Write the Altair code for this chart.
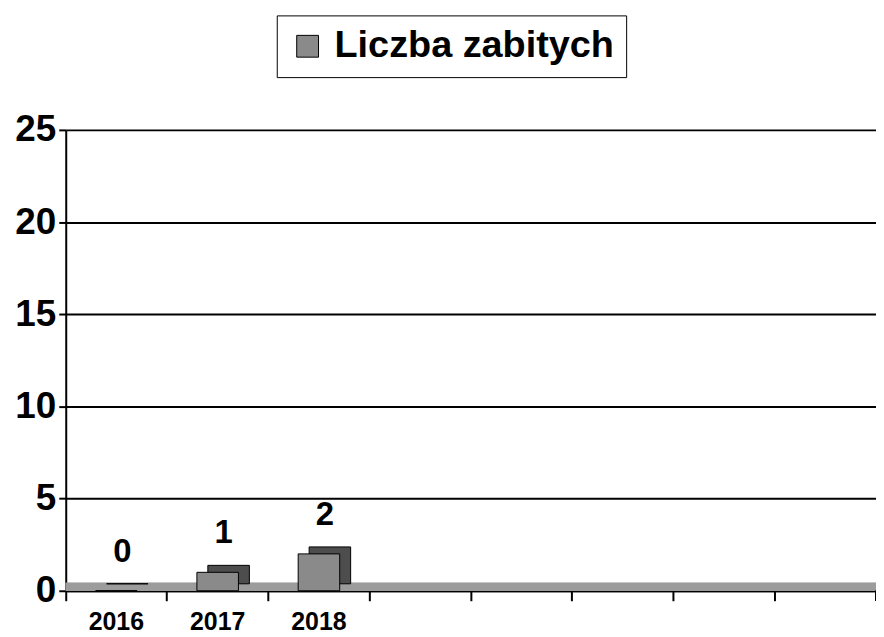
import altair as alt
import pandas as pd

# ---- data ----
years = ["2016", "2017", "2018"]
killed = [0, 1, 2]
# the category axis has 8 slots, only the first three are labelled
slots = ["2016", "2017", "2018", " ", "  ", "   ", "    ", "     "]
series_name = "Liczba zabitych"
y_ticks = [0, 5, 10, 15, 20, 25]

df = pd.DataFrame({"rok": years, "liczba": killed, "seria": [series_name] * len(years)})

W, H = 814, 463
FONT = "Liberation Sans"

xenc = alt.X(
    "rok:N",
    scale=alt.Scale(domain=slots, paddingInner=0, paddingOuter=0),
    axis=alt.Axis(
        title=None, labelAngle=0, bandPosition=0,
        labelFont=FONT, labelFontWeight="bold", labelFontSize=25, labelColor="black",
        labelPadding=9, tickSize=10, tickWidth=2, tickColor="black",
        domainColor="black", domainWidth=2, grid=False,
    ),
)
yenc = alt.Y(
    "liczba:Q",
    scale=alt.Scale(domain=[0, 25], nice=False),
    axis=alt.Axis(
        title=None, values=y_ticks, labelFont=FONT, labelFontWeight="bold",
        labelFontSize=37, labelColor="black", labelPadding=3, tickSize=7,
        tickWidth=2, tickColor="black", domainColor="black", domainWidth=2,
        grid=True, gridColor="black", gridWidth=2,
    ),
)

base = alt.Chart(df)

floor = base.mark_rect(color="#9c9c9c").encode(
    x=alt.value(0), x2=alt.value(W), y=alt.value(H - 8), y2=alt.value(H)
)

back = base.mark_bar(
    color="#4d4d4d", stroke="black", strokeWidth=1,
    width=alt.RelativeBandSize(0.41), xOffset=11, yOffset=-7,
).encode(x=xenc, y=yenc)

front = base.mark_bar(
    stroke="black", strokeWidth=1, width=alt.RelativeBandSize(0.41),
).encode(
    x=xenc,
    y=yenc,
    color=alt.Color(
        "seria:N",
        scale=alt.Scale(domain=[series_name], range=["#8a8a8a"]),
        legend=alt.Legend(
            title=None, orient="none", legendX=212, legendY=-115,
            symbolType="square", symbolSize=480, symbolStrokeColor="black",
            symbolStrokeWidth=1, labelFont=FONT, labelFontWeight="bold",
            labelFontSize=38, labelColor="black", labelLimit=0,
            strokeColor="black", padding=12, labelOffset=8,
        ),
    ),
)

labels = base.mark_text(
    font=FONT, fontWeight="bold", fontSize=33, color="black",
    baseline="bottom", dy=-22, dx=6,
).encode(x=xenc, y=yenc, text=alt.Text("liczba:Q"))

end_tick = base.mark_rule(color="black", strokeWidth=2).encode(
    x=alt.value(W), y=alt.value(H), y2=alt.value(H + 10)
)

chart = (
    alt.layer(floor, back, front, labels, end_tick)
    .properties(
        width=W, height=H,
        autosize=alt.AutoSizeParams(type="none"),
        padding={"left": 58, "top": 121, "right": 0, "bottom": 42},
        background="white",
    )
    .configure_view(stroke=None)
)

chart.save("out.html", embed_options={"renderer": "svg", "actions": False})
